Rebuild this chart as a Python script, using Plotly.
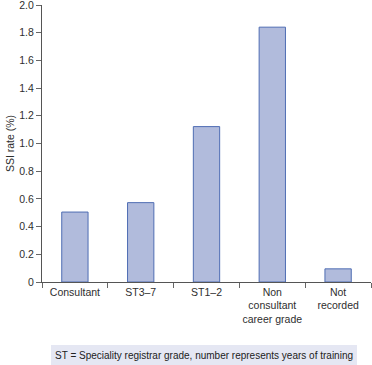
import plotly.graph_objects as go

categories = ["Consultant", "ST3–7", "ST1–2", "Non<br>consultant<br>career grade", "Not<br>recorded"]
ssi_rate = [0.505, 0.573, 1.122, 1.84, 0.095]
y_ticks = [0, 0.2, 0.4, 0.6, 0.8, 1.0, 1.2, 1.4, 1.6, 1.8, 2.0]
y_tick_labels = ["0", "0.2", "0.4", "0.6", "0.8", "1.0", "1.2", "1.4", "1.6", "1.8", "2.0"]
footnote = "ST = Speciality registrar grade, number represents years of training"

FAMILY = "Liberation Sans, Arial, sans-serif"
font = dict(family=FAMILY, size=10.5, color="#2e2e2e")

fig = go.Figure(go.Bar(
    x=categories, y=ssi_rate,
    marker=dict(color="#b1bbdc", line=dict(color="#4f6db3", width=1)),
))

fig.update_layout(
    width=372, height=365,
    margin=dict(l=42, r=1, t=5, b=83, autoexpand=False),
    paper_bgcolor="white", plot_bgcolor="white",
    font=font, showlegend=False, bargap=0.6,
    xaxis=dict(
        type="category", tickson="boundaries", ticks="outside", ticklen=5,
        tickcolor="#666666", showline=True, linecolor="#555555", linewidth=1,
        showgrid=False, tickfont=font, tickangle=0, automargin=False,
    ),
    yaxis=dict(
        range=[0, 2.0], tickvals=y_ticks, ticktext=y_tick_labels,
        ticks="outside", ticklen=5, tickcolor="#666666",
        showline=True, linecolor="#555555", linewidth=1,
        showgrid=False, zeroline=False, tickfont=font, automargin=False,
        ticklabeloverflow="allow",
        title=dict(text="SSI rate (%)", font=font, standoff=2),
    ),
    shapes=[dict(type="rect", xref="paper", yref="paper",
                 x0=(51 - 42) / 329, x1=(357 - 42) / 329,
                 y0=(282 - 365) / 277, y1=(282 - 345) / 277,
                 fillcolor="#e5e7f3", line=dict(width=0), layer="below")],
    annotations=[dict(text=footnote, xref="paper", yref="paper",
                      x=(204 - 42) / 329, y=(282 - 355) / 277,
                      xanchor="center", yanchor="middle", showarrow=False,
                      font=dict(family=FAMILY, size=10, color="#222222"))],
)

fig.write_html("out.html", config={"displayModeBar": False},
               post_script="document.body.style.margin='0';document.body.style.overflow='hidden';")
